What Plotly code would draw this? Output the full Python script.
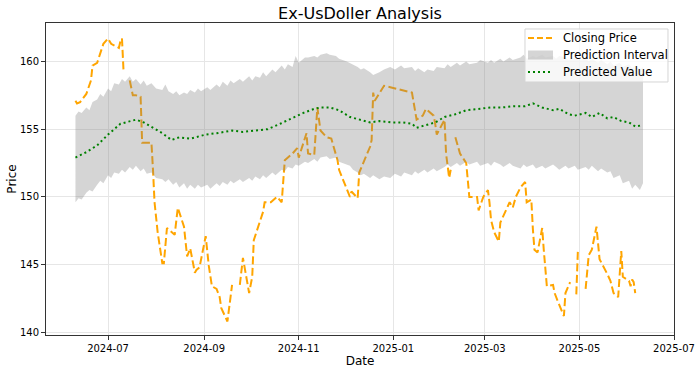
import plotly.graph_objects as go

# ---------------- data ----------------
close_dates = [
    "2024-06-10", "2024-06-11", "2024-06-13", "2024-06-17", "2024-06-20", "2024-06-21", "2024-06-24",
    "2024-06-27", "2024-06-28", "2024-07-01", "2024-07-03", "2024-07-08", "2024-07-09", "2024-07-10",
    "2024-07-11", "2024-07-12", "2024-07-15", "2024-07-17", "2024-07-19", "2024-07-22", "2024-07-23",
    "2024-07-26", "2024-07-29", "2024-07-30", "2024-07-31", "2024-08-02", "2024-08-05", "2024-08-06",
    "2024-08-08", "2024-08-13", "2024-08-15", "2024-08-19", "2024-08-21", "2024-08-23", "2024-08-26",
    "2024-08-27", "2024-08-29", "2024-09-02", "2024-09-04", "2024-09-06", "2024-09-09", "2024-09-11",
    "2024-09-12", "2024-09-16", "2024-09-19", "2024-09-20", "2024-09-24", "2024-09-26", "2024-09-30",
    "2024-10-02", "2024-10-03", "2024-10-07", "2024-10-09", "2024-10-10", "2024-10-14", "2024-10-18",
    "2024-10-21", "2024-10-23", "2024-10-28", "2024-10-31", "2024-11-01", "2024-11-06", "2024-11-07",
    "2024-11-11", "2024-11-13", "2024-11-15", "2024-11-19", "2024-11-22", "2024-11-26", "2024-11-27",
    "2024-12-02", "2024-12-04", "2024-12-05", "2024-12-09", "2024-12-10", "2024-12-17", "2024-12-18",
    "2024-12-19", "2024-12-20", "2024-12-23", "2024-12-26", "2024-12-30", "2025-01-03", "2025-01-07",
    "2025-01-13", "2025-01-16", "2025-01-20", "2025-01-22", "2025-01-27", "2025-01-28", "2025-01-29",
    "2025-02-03", "2025-02-04", "2025-02-06", "2025-02-07", "2025-02-08", "2025-02-10", "2025-02-13",
    "2025-02-17", "2025-02-19", "2025-02-24", "2025-02-25", "2025-02-28", "2025-03-03", "2025-03-04",
    "2025-03-05", "2025-03-07", "2025-03-10", "2025-03-11", "2025-03-14", "2025-03-17", "2025-03-19",
    "2025-03-21", "2025-03-24", "2025-03-27", "2025-03-28", "2025-03-31", "2025-04-01", "2025-04-02",
    "2025-04-04", "2025-04-07", "2025-04-08", "2025-04-09", "2025-04-10", "2025-04-14", "2025-04-15",
    "2025-04-17", "2025-04-21", "2025-04-22", "2025-04-25", "2025-04-26", "2025-04-29", "2025-04-30",
    "2025-05-01", "2025-05-05", "2025-05-07", "2025-05-09", "2025-05-12", "2025-05-14", "2025-05-16",
    "2025-05-19", "2025-05-21", "2025-05-23", "2025-05-26", "2025-05-28", "2025-05-29", "2025-06-02",
    "2025-06-03", "2025-06-04", "2025-06-05", "2025-06-06",
]
close_prices = [
    157.1, 156.9, 157.0, 157.6, 158.6, 159.7, 159.9,
    161.0, 161.3, 161.7, 161.3, 161.0, 161.5, 161.7,
    159.3, None, 158.6, 157.5, 157.5, 157.4, 154.0,
    154.0, 154.0, 152.0, 149.6, 147.4, 145.1, 145.1,
    147.7, 147.2, 149.2, 147.8, 145.6, 146.2, 144.4,
    144.6, 144.8, 147.1, 144.9, 143.4, 143.2, 142.6,
    141.8, 140.8, 143.5, None, 143.5, 145.5, 142.9,
    144.1, 146.8, 148.3, 148.9, 149.6, 149.6, 150.0,
    149.6, 152.7, 153.2, 153.6, 152.9, 154.7, 153.2,
    153.1, 156.6, 154.9, 154.4, 154.3, 152.7, 152.0,
    150.5, 150.0, 150.4, 149.9, 151.8, 153.7, 154.2,
    157.7, 157.1, 157.7, 158.2, 158.1, 158.0, 157.9,
    157.7, 155.7, 156.0, 156.5, 156.0, 155.4, 154.6,
    155.7, 153.2, 151.4, 152.0, None, 154.4, 153.2,
    152.5, 150.0, 150.0, 149.0, 150.0, 150.5, 149.6,
    148.3, 147.4, 146.7, 148.1, 148.9, 149.6, 149.2,
    150.0, 150.7, 151.1, 149.6, 149.8, 147.6, 146.1,
    145.9, 147.7, 146.1, 144.9, 143.4, 143.5, 142.9,
    142.3, 141.2, 142.9, 143.7, None, 142.8, 146.0,
    None, 143.2, 145.7, 146.1, 147.8, 145.4, 145.0,
    144.3, 143.8, 142.9, 142.6, 146.0, 144.1, 143.8,
    143.4, 143.9, 143.7, 142.9,
]

band_dates = [
    "2024-06-10", "2024-06-12", "2024-06-14", "2024-06-17", "2024-06-19", "2024-06-21", "2024-06-24",
    "2024-06-26", "2024-06-28", "2024-07-01", "2024-07-03", "2024-07-05", "2024-07-08", "2024-07-10",
    "2024-07-12", "2024-07-15", "2024-07-17", "2024-07-19", "2024-07-22", "2024-07-24", "2024-07-26",
    "2024-07-29", "2024-08-01", "2024-08-05", "2024-08-07", "2024-08-09", "2024-08-12", "2024-08-14",
    "2024-08-16", "2024-08-19", "2024-08-21", "2024-08-23", "2024-08-26", "2024-08-28", "2024-08-30",
    "2024-09-03", "2024-09-05", "2024-09-09", "2024-09-11", "2024-09-13", "2024-09-16", "2024-09-18",
    "2024-09-20", "2024-09-24", "2024-09-26", "2024-09-30", "2024-10-02", "2024-10-04", "2024-10-07",
    "2024-10-09", "2024-10-11", "2024-10-15", "2024-10-17", "2024-10-21", "2024-10-23", "2024-10-25",
    "2024-10-28", "2024-10-30", "2024-11-01", "2024-11-05", "2024-11-07", "2024-11-11", "2024-11-13",
    "2024-11-15", "2024-11-19", "2024-11-21", "2024-11-25", "2024-11-27", "2024-12-02", "2024-12-04",
    "2024-12-06", "2024-12-09", "2024-12-11", "2024-12-13", "2024-12-17", "2024-12-19", "2024-12-23",
    "2024-12-26", "2024-12-30", "2025-01-02", "2025-01-06", "2025-01-08", "2025-01-13", "2025-01-15",
    "2025-01-17", "2025-01-21", "2025-01-23", "2025-01-27", "2025-01-29", "2025-02-03", "2025-02-05",
    "2025-02-07", "2025-02-11", "2025-02-13", "2025-02-17", "2025-02-19", "2025-02-24", "2025-02-26",
    "2025-03-03", "2025-03-05", "2025-03-07", "2025-03-11", "2025-03-13", "2025-03-17", "2025-03-19",
    "2025-03-24", "2025-03-26", "2025-03-28", "2025-04-01", "2025-04-03", "2025-04-07", "2025-04-09",
    "2025-04-14", "2025-04-16", "2025-04-18", "2025-04-22", "2025-04-24", "2025-04-28", "2025-04-30",
    "2025-05-05", "2025-05-07", "2025-05-09", "2025-05-13", "2025-05-15", "2025-05-19", "2025-05-21",
    "2025-05-23", "2025-05-27", "2025-05-29", "2025-06-02", "2025-06-04", "2025-06-06", "2025-06-09",
    "2025-06-11",
]
band_upper = [
    156.0, 156.3, 156.2, 156.6, 156.4, 157.0, 157.2,
    157.6, 157.4, 158.0, 157.8, 158.4, 158.3, 158.7,
    158.5, 158.9, 158.5, 158.7, 158.3, 158.6, 158.2,
    158.4, 158.0, 157.9, 158.3, 157.8, 157.6, 157.8,
    157.5, 157.7, 157.6, 157.9, 157.7, 158.0, 157.8,
    158.1, 157.9, 158.3, 158.1, 158.5, 158.2, 158.6,
    158.4, 158.7, 158.5, 158.9, 158.6, 158.9, 158.8,
    159.2, 158.9, 159.4, 159.2, 159.7, 159.4, 159.8,
    159.6, 160.4, 159.9, 160.3, 160.3, 160.4, 160.3,
    160.5, 160.6, 160.5, 160.4, 160.2, 160.0, 159.9,
    159.8, 159.6, 159.4, 159.5, 159.2, 159.0, 159.2,
    159.4, 159.6, 159.4, 159.7, 159.5, 159.6, 159.3,
    159.5, 159.2, 159.4, 159.3, 159.6, 159.5, 159.8,
    159.6, 159.9, 159.7, 160.0, 159.8, 159.9, 160.1,
    159.9, 160.1, 159.9, 160.2, 160.0, 160.3, 160.1,
    160.3, 160.5, 160.2, 160.4, 160.3, 160.5, 160.3,
    160.4, 160.2, 160.4, 160.3, 160.1, 160.3, 160.1,
    160.2, 160.0, 160.2, 159.9, 160.1, 159.8, 160.0,
    159.7, 159.9, 159.6, 159.8, 159.5, 159.7, 159.4,
    159.6,
]
band_lower = [
    149.6, 149.9, 149.8, 150.3, 150.5, 150.4, 150.9,
    151.2, 151.0, 151.6, 151.4, 151.8, 151.7, 152.0,
    151.8, 152.2, 152.0, 152.3, 151.9, 152.1, 151.7,
    151.8, 151.4, 151.3, 151.1, 151.3, 150.9, 151.1,
    150.7, 151.0, 150.6, 150.9, 150.6, 150.9, 150.7,
    150.9, 150.6, 151.0, 150.8, 151.1, 150.9, 151.2,
    151.0, 151.3, 151.1, 151.4, 151.2, 151.5, 151.3,
    151.6, 151.4, 151.8, 151.6, 152.0, 151.9, 152.2,
    152.1, 152.4, 152.3, 152.6, 152.5, 152.8, 152.6,
    152.9, 153.0, 152.8, 152.9, 152.6, 152.4, 152.3,
    152.0, 151.8, 151.6, 151.7, 151.4, 151.6, 151.3,
    151.5, 151.4, 151.7, 151.5, 151.8, 151.6, 151.9,
    151.7, 152.0, 151.8, 152.1, 151.9, 152.2, 152.4,
    152.2, 152.5, 152.3, 152.6, 152.4, 152.6, 152.3,
    152.5, 152.3, 152.6, 152.4, 152.2, 152.5, 152.3,
    152.1, 152.4, 152.2, 152.4, 152.1, 152.3, 152.1,
    152.4, 152.2, 152.0, 152.3, 152.1, 152.3, 152.0,
    152.2, 152.0, 152.3, 151.9, 152.1, 151.8, 151.9,
    151.4, 151.6, 151.0, 151.2, 150.6, 150.9, 150.5,
    151.0,
]

pred_dates = [
    "2024-06-10", "2024-06-17", "2024-06-24", "2024-07-01", "2024-07-09", "2024-07-15", "2024-07-19",
    "2024-07-24", "2024-07-30", "2024-08-05", "2024-08-11", "2024-08-16", "2024-08-23", "2024-08-29",
    "2024-09-02", "2024-09-09", "2024-09-19", "2024-09-26", "2024-10-05", "2024-10-12", "2024-10-20",
    "2024-10-27", "2024-11-04", "2024-11-11", "2024-11-15", "2024-11-21", "2024-11-27", "2024-12-04",
    "2024-12-10", "2024-12-17", "2024-12-23", "2024-12-31", "2025-01-07", "2025-01-13", "2025-01-16",
    "2025-01-22", "2025-01-28", "2025-02-03", "2025-02-10", "2025-02-17", "2025-02-24", "2025-03-05",
    "2025-03-12", "2025-03-20", "2025-03-27", "2025-04-01", "2025-04-07", "2025-04-14", "2025-04-18",
    "2025-04-24", "2025-04-28", "2025-05-05", "2025-05-09", "2025-05-14", "2025-05-19", "2025-05-23",
    "2025-05-28", "2025-06-02", "2025-06-06", "2025-06-11",
]
pred_values = [
    152.9, 153.3, 153.8, 154.6, 155.4, 155.6, 155.7,
    155.5, 155.1, 154.7, 154.2, 154.4, 154.3, 154.5,
    154.6, 154.7, 154.9, 154.8, 154.9, 155.0, 155.4,
    155.8, 156.2, 156.5, 156.6, 156.6, 156.4, 155.9,
    155.7, 155.5, 155.6, 155.5, 155.5, 155.4, 155.1,
    155.3, 155.5, 155.9, 156.1, 156.4, 156.5, 156.6,
    156.6, 156.7, 156.7, 156.9, 156.6, 156.4, 156.5,
    156.1, 156.0, 156.2, 155.9, 156.2, 155.8, 155.9,
    155.6, 155.5, 155.2, 155.3,
]

series_names = ["Closing Price", "Prediction Interval", "Predicted Value"]

x_range = ["2024-05-22", "2025-07-01"]
y_range = [139.8, 162.84]

FONT = "DejaVu Sans"
ORANGE = "#FFA500"
GREEN = "#008000"
BAND = "rgba(128,128,128,0.33)"
CLOSE_DASH = "8px,3.5px"
PRED_DASH = "2px,3px"

# ---------------- figure ----------------
fig = go.Figure()

fig.add_trace(go.Scatter(
    x=close_dates, y=close_prices, mode="lines", name=series_names[0],
    line=dict(color=ORANGE, width=2, dash=CLOSE_DASH),
    connectgaps=False, showlegend=False,
))

fig.add_trace(go.Scatter(
    x=band_dates + band_dates[::-1], y=band_upper + band_lower[::-1],
    mode="lines", fill="toself", fillcolor=BAND,
    line=dict(width=0, color="rgba(128,128,128,0)"),
    name=series_names[1], hoverinfo="skip", showlegend=False,
))

fig.add_trace(go.Scatter(
    x=pred_dates, y=pred_values, mode="lines", name=series_names[2],
    line=dict(color=GREEN, width=2, dash=PRED_DASH), showlegend=False,
))

# ---- legend drawn as a matplotlib-style box (paper coordinates) ----
leg_x0, leg_x1, leg_y0, leg_y1 = 0.7627, 0.9904, 0.8109, 0.9808
row_y = [0.9519, 0.8974, 0.8429]
sample_x0, sample_x1, text_x = 0.7675, 0.8073, 0.8201
half_patch = 0.0145

shapes = [
    dict(type="rect", xref="paper", yref="paper", x0=leg_x0, x1=leg_x1, y0=leg_y0, y1=leg_y1,
         line=dict(color="#d5d5d5", width=1), fillcolor="rgba(255,255,255,0.8)", layer="above"),
    dict(type="line", xref="paper", yref="paper", x0=sample_x0, x1=sample_x1, y0=row_y[0], y1=row_y[0],
         line=dict(color=ORANGE, width=2, dash="6px,3px"), layer="above"),
    dict(type="rect", xref="paper", yref="paper", x0=sample_x0, x1=sample_x1,
         y0=row_y[1] - half_patch, y1=row_y[1] + half_patch,
         line=dict(width=0), fillcolor=BAND, layer="above"),
    dict(type="line", xref="paper", yref="paper", x0=sample_x0, x1=sample_x1, y0=row_y[2], y1=row_y[2],
         line=dict(color=GREEN, width=2, dash=PRED_DASH), layer="above"),
]
annotations = [
    dict(text=name, xref="paper", yref="paper", x=text_x, y=yy, xanchor="left", yanchor="middle",
         showarrow=False, font=dict(family=FONT, size=11.5, color="#000000"))
    for name, yy in zip(series_names, row_y)
]

axis_common = dict(
    showline=True, linecolor="#333333", linewidth=1, mirror=True,
    ticks="outside", ticklen=4, tickcolor="#333333",
    showgrid=True, gridcolor="#e6e6e6", gridwidth=1,
    zeroline=False,
    tickfont=dict(family=FONT, size=10, color="#000000"),
)

fig.update_layout(
    width=700, height=373,
    margin=dict(l=46, r=26, t=23, b=38),
    paper_bgcolor="white", plot_bgcolor="white",
    font=dict(family=FONT, color="#000000"),
    title=dict(
        text="Ex-UsDoller Analysis", x=0.5, xref="paper",
        y=1 - 13 / 373, yref="container", yanchor="middle", xanchor="center",
        font=dict(family=FONT, size=16, color="#000000"),
    ),
    xaxis=dict(
        **axis_common, type="date", range=x_range,
        tick0="2024-07-01", dtick="M2", tickformat="%Y-%m",
        title=dict(text="Date", standoff=2, font=dict(family=FONT, size=12)),
        automargin=False,
    ),
    yaxis=dict(
        **axis_common, range=y_range, tick0=140, dtick=5,
        title=dict(text="Price", standoff=0, font=dict(family=FONT, size=12)),
        automargin=False,
    ),
    shapes=shapes,
    annotations=annotations,
    showlegend=False,
)

fig.write_html(
    "out.html",
    config={"displayModeBar": False},
    post_script="document.body.style.margin='0';document.body.style.padding='0';",
)
